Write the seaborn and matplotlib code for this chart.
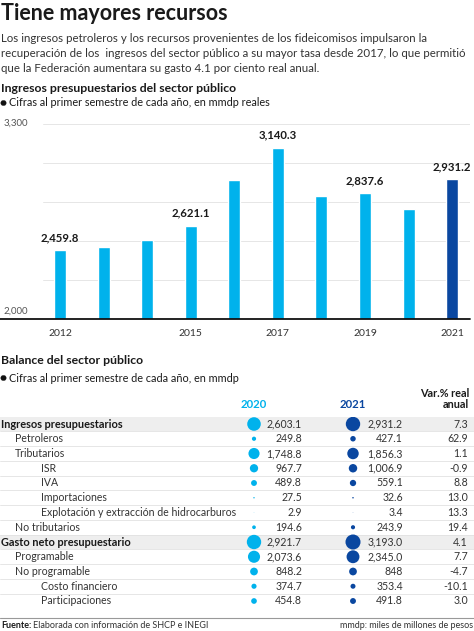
import numpy as np
import pandas as pd
import matplotlib
matplotlib.use("Agg")
import matplotlib.pyplot as plt
import matplotlib.transforms as mtransforms
from matplotlib.patches import FancyBboxPatch
import seaborn as sns

# ---------------- data ----------------
years = [2012, 2013, 2014, 2015, 2016, 2017, 2018, 2019, 2020, 2021]
ingresos = [2459.8, 2480.0, 2522.0, 2621.1, 2921.0, 3140.3, 2819.0, 2837.6, 2733.0, 2931.2]
labeled_years = [2012, 2015, 2017, 2019, 2021]
tick_years = [2012, 2015, 2017, 2019, 2021]

row_labels = ["Ingresos presupuestarios", "Petroleros", "Tributarios", "ISR", "IVA",
              "Importaciones", "Explotación y extracción de hidrocarburos", "No tributarios",
              "Gasto neto presupuestario", "Programable", "No programable",
              "Costo financiero", "Participaciones"]
row_levels = [0, 1, 1, 2, 2, 2, 2, 1, 0, 1, 1, 2, 2]
vals_2020 = [2603.1, 249.8, 1748.8, 967.7, 489.8, 27.5, 2.9, 194.6, 2921.7, 2073.6, 848.2, 374.7, 454.8]
vals_2021 = [2931.2, 427.1, 1856.3, 1006.9, 559.1, 32.6, 3.4, 243.9, 3193.0, 2345.0, 848.0, 353.4, 491.8]
text_2021 = ["2,931.2", "427.1", "1,856.3", "1,006.9", "559.1", "32.6", "3.4", "243.9",
             "3,193.0", "2,345.0", "848", "353.4", "491.8"]
var_real = [7.3, 62.9, 1.1, -0.9, 8.8, 13.0, 13.3, 19.4, 4.1, 7.7, -4.7, -10.1, 3.0]

LIGHT = "#00b2ec"
DARK = "#0a47a0"
TXT = "#1a1a1a"
FONT = ["Lato", "DejaVu Sans"]

sns.set_theme(style="white")
plt.rcParams["font.family"] = FONT

W, H = 474, 631
fig = plt.figure(figsize=(W / 100, H / 100), dpi=100)


def fy(px):
    return 1 - px / H


def fx(px):
    return px / W


def bullet(ypx):
    fig.add_artist(FancyBboxPatch((fx(0.5), fy(ypx + 2.7)), fx(6), 5.4 / H,
                                  boxstyle="round,pad=0,rounding_size=0.005",
                                  transform=fig.transFigure, fc="#111", ec="none"))


# ---------------- header texts ----------------
fig.text(fx(1), fy(13), "Tiene mayores recursos", fontsize=15.5, fontweight="bold",
         color=TXT, va="center", ha="left")
body = ["Los ingresos petroleros y los recursos provenientes de los fideicomisos impulsaron la",
        "recuperación de los  ingresos del sector público a su mayor tasa desde 2017, lo que permitió",
        "que la Federación aumentara su gasto 4.1 por ciento real anual."]
for i, line in enumerate(body):
    fig.text(fx(1), fy(39 + i * 14.7), line, fontsize=8.3, color="#333333", va="center", ha="left")

fig.text(fx(1), fy(89), "Ingresos presupuestarios del sector público", fontsize=8.8,
         fontweight="bold", color=TXT, va="center", ha="left")
bullet(103)
fig.text(fx(9), fy(103), "Cifras al primer semestre de cada año, en mmdp reales", fontsize=7.8,
         color=TXT, va="center", ha="left")

# ---------------- bar chart ----------------
ax_left, ax_right, ax_top, ax_bot = 43, 470, 123.5, 319
ax = fig.add_axes([fx(ax_left), fy(ax_bot), fx(ax_right - ax_left), (ax_bot - ax_top) / H])
df = pd.DataFrame({"year": [str(y) for y in years], "value": ingresos})
palette = {str(y): (DARK if y == 2021 else LIGHT) for y in years}
sns.barplot(data=df, x="year", y="value", hue="year", palette=palette, legend=False,
            width=0.275, saturation=1, ax=ax)
ax.set_ylim(2000, 3300)
ax.set_xlim(-0.39, 9.41)
ax.set_yticks(np.linspace(2000, 3300, 6))
ax.set_yticklabels([])
ax.yaxis.grid(True, color="#e6e6e6", lw=0.7)
ax.set_axisbelow(True)
ax.tick_params(axis="both", length=0)
ax.set_xticks([years.index(y) for y in tick_years])
ax.set_xticklabels([str(y) for y in tick_years], fontsize=7.5, color="#333333")
ax.tick_params(axis="x", pad=7)
ax.set_xlabel("")
ax.set_ylabel("")
for s in ax.spines.values():
    s.set_visible(False)
ax.axhline(2000, xmin=-ax_left / (ax_right - ax_left), xmax=1, color="#111", lw=1.3,
           clip_on=False, zorder=5)
trans = mtransforms.blended_transform_factory(fig.transFigure, ax.transData)
ax.text(fx(4), 3300, "3,300", transform=trans, fontsize=7, color="#555", va="center", ha="left")
ax.text(fx(4), 2020, "2,000", transform=trans, fontsize=7, color="#555", va="bottom", ha="left")
for y in labeled_years:
    i = years.index(y)
    ax.annotate(f"{ingresos[i]:,.1f}", (i, ingresos[i]), xytext=(0, 9),
                textcoords="offset points", ha="center", va="center",
                fontsize=8.2, fontweight="bold", color=TXT)

# ---------------- balance table ----------------
fig.text(fx(1), fy(361), "Balance del sector público", fontsize=8.8, fontweight="bold",
         color=TXT, va="center", ha="left")
bullet(378)
fig.text(fx(9), fy(378), "Cifras al primer semestre de cada año, en mmdp", fontsize=7.8,
         color=TXT, va="center", ha="left")

row0, step = 424, 14.75
n = len(row_labels)
t_top = row0 - 0.5 * step
t_bot = row0 + (n - 0.5) * step
ax2 = fig.add_axes([0, fy(t_bot), 1, (t_bot - t_top) / H])
ax2.set_xlim(0, W)
ax2.set_ylim(n - 0.5, -0.5)
ax2.axis("off")

col_dot20, col_val20, col_dot21, col_val21, col_var = 254, 302, 353, 403, 468
indent = {0: 1, 1: 15, 2: 41}

for i in range(n):
    if row_levels[i] == 0:
        ax2.axhspan(i - 0.5, i + 0.5, color="#eeeeee", zorder=0, lw=0)
    if i < n - 1:
        ax2.axhline(i + 0.5, color="#e2e2e2", lw=0.6, zorder=1)
    bold = row_levels[i] == 0
    ax2.text(indent[row_levels[i]], i, row_labels[i], fontsize=7.9 if bold else 7.6,
             fontweight="bold" if bold else "normal", color=TXT if bold else "#333",
             va="center", ha="left")
    ax2.text(col_val20, i, f"{vals_2020[i]:,.1f}", fontsize=7.6, color="#333", va="center", ha="right")
    ax2.text(col_val21, i, text_2021[i], fontsize=7.6, color="#333", va="center", ha="right")
    ax2.text(col_var, i, f"{var_real[i]:.1f}", fontsize=7.6, color="#333", va="center", ha="right")

rows = list(range(n))
vmax = max(max(vals_2020), max(vals_2021))
dots = pd.DataFrame({
    "row": rows + rows,
    "col": [col_dot20] * n + [col_dot21] * n,
    "value": vals_2020 + vals_2021,
    "year": ["2020"] * n + ["2021"] * n,
})
sns.scatterplot(data=dots, x="col", y="row", size="value", hue="year",
                palette={"2020": LIGHT, "2021": DARK}, sizes=(0, 117), size_norm=(0, vmax),
                linewidth=0, legend=False, ax=ax2, zorder=3)
ax2.set_xlim(0, W)
ax2.set_ylim(n - 0.5, -0.5)
ax2.axis("off")

fig.text(fx(col_dot20), fy(404), "2020", fontsize=8.2, fontweight="bold", color=LIGHT,
         ha="center", va="center")
fig.text(fx(col_dot21), fy(404), "2021", fontsize=8.2, fontweight="bold", color=DARK,
         ha="center", va="center")
fig.text(fx(469), fy(399), "Var.% real\nanual", fontsize=7.8, fontweight="bold", color=TXT,
         ha="right", va="center", linespacing=0.9, multialignment="right")

# ---------------- footer ----------------
fig.add_artist(plt.Line2D([0, 1], [fy(618), fy(618)], transform=fig.transFigure,
                          color="#999999", lw=0.8))
t = fig.text(fx(1), fy(625), "Fuente:", fontsize=6.5, fontweight="bold", color=TXT,
             ha="left", va="center")
fig.canvas.draw()
bb = t.get_window_extent()
fig.text(bb.x1 / W + fx(2), fy(625), "Elaborada con información de SHCP e INEGI", fontsize=6.5,
         color="#333", ha="left", va="center")
fig.text(fx(473), fy(625), "mmdp: miles de millones de pesos", fontsize=6.5, color="#333",
         ha="right", va="center")

fig.savefig("out.png", dpi=100, facecolor="white")
